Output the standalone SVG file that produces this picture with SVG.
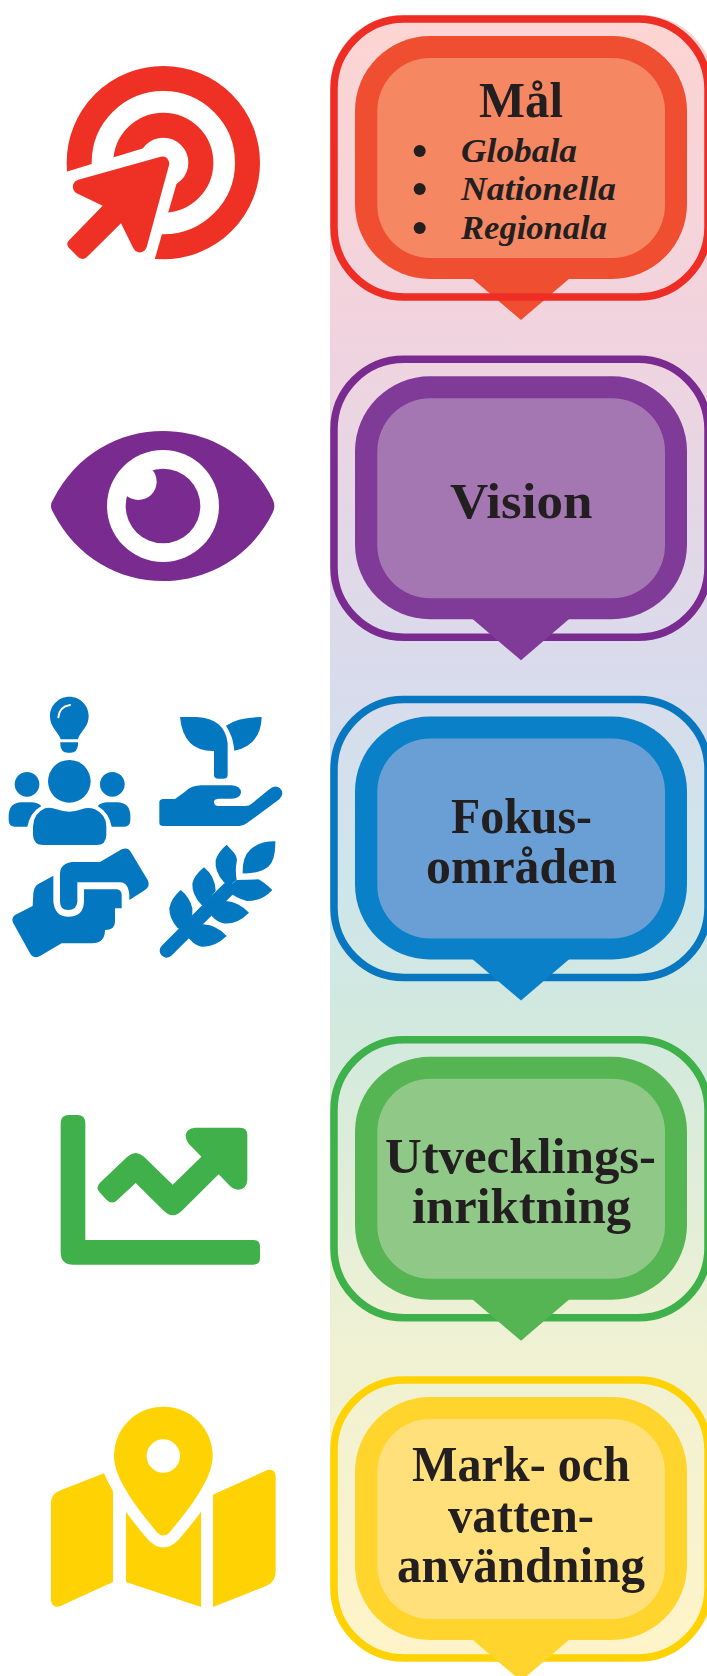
<svg xmlns="http://www.w3.org/2000/svg" width="707" height="1676" viewBox="0 0 707 1676">
<style>
text{font-family:"Liberation Serif",serif;font-weight:700;fill:#231f20;font-size:50px;text-anchor:start}
.it{font-style:italic;font-size:33px}
.bar{fill:none;stroke-width:7.5}
</style>
<defs>
<linearGradient id="band" x1="0" y1="15" x2="0" y2="1657" gradientUnits="userSpaceOnUse">
<stop offset="0" stop-color="#fdd5d2"/>
<stop offset=".19" stop-color="#f1d3de"/>
<stop offset=".4" stop-color="#d9dbec"/>
<stop offset=".52" stop-color="#cee5ec"/>
<stop offset=".62" stop-color="#d2e9de"/>
<stop offset=".8" stop-color="#eef1d4"/>
<stop offset="1" stop-color="#fff4c8"/>
</linearGradient>
<g id="bubble">
<rect x="355" y="36" width="332" height="243" rx="75"/>
<path d="M471.700 278L521 320L570 278Z"/>
</g>
</defs>
<rect id="band-bg" x="330" y="15" width="385" height="1642" rx="73" fill="url(#band)"/>

<g id="node-mal">
<use href="#bubble" fill="#f04e30"/>
<rect x="377.300" y="58" width="287.700" height="200" rx="53" fill="#f68763"/>
<rect class="bar" x="334" y="19" width="374" height="278" rx="70" stroke="#ee2e24"/>
<text x="479" y="117" textLength="84" lengthAdjust="spacingAndGlyphs">Mål</text>
<circle cx="419.700" cy="151" r="6" fill="#231f20"/>
<circle cx="419.700" cy="189" r="6" fill="#231f20"/>
<circle cx="419.700" cy="228" r="6" fill="#231f20"/>
<text class="it" x="461" y="162.300" textLength="116" lengthAdjust="spacingAndGlyphs">Globala</text>
<text class="it" x="461" y="200" textLength="155" lengthAdjust="spacingAndGlyphs">Nationella</text>
<text class="it" x="461" y="239" textLength="146" lengthAdjust="spacingAndGlyphs">Regionala</text>
</g>
<g id="icon-mal" transform="translate(40,40) scale(.33333)">
<circle cx="370" cy="368" r="252.500" fill="none" stroke="#ee3124" stroke-width="75"/>
<circle cx="370" cy="368" r="112.500" fill="none" stroke="#ee3124" stroke-width="75"/>
<path d="M40 407L310 325L370 368L410 430L345 655L330 700L40 700Z" fill="#fff"/>
<path d="M362 350Q385 345 388 372L320 622Q312 640 295 637Q285 635 280 625L243 550L140 652Q128 662 115 652L85 622Q77 610 88 600L188 497L110 460Q95 450 100 432Q104 422 115 419Z" fill="#ee3124"/>
</g>

<g id="node-vision">
<rect class="bar" x="334" y="359.250" width="374" height="278" rx="70" stroke="#7a2b8f"/>
<use href="#bubble" y="340.250" fill="#803a98"/>
<rect x="377.300" y="398.250" width="287.700" height="200" rx="53" fill="#a477b3"/>
<text x="450" y="517.700" textLength="142.500" lengthAdjust="spacingAndGlyphs">Vision</text>
</g>
<g id="icon-vision" transform="translate(40,410) scale(.33333)">
<path d="M33 288Q33 278 40 268C110 130 240 63 369 63C500 63 630 130 698 268Q708 288 698 308C630 445 500 513 369 513C240 513 110 445 40 308Q33 298 33 288Z" fill="#7a2b8f"/>
<circle cx="369" cy="288" r="168" fill="#fff"/>
<circle cx="369" cy="288" r="112" fill="#7a2b8f"/>
<circle cx="295" cy="215" r="55" fill="#fff"/>
</g>

<g id="node-fokus">
<rect class="bar" x="334" y="699.500" width="374" height="278" rx="70" stroke="#0877bf"/>
<use href="#bubble" y="680.500" fill="#0a80c8"/>
<rect x="377.300" y="738.500" width="287.700" height="200" rx="53" fill="#6a9fd6"/>
<text x="451" y="833" textLength="141" lengthAdjust="spacingAndGlyphs">Fokus-</text>
<text x="426" y="882.500" textLength="191" lengthAdjust="spacingAndGlyphs">områden</text>
</g>
<g id="icon-fokus" transform="translate(0,680) scale(.33333)" fill="#0477c1">
<path d="M208 50C240 50 266 76 266 108C266 130 255 143 245 157Q235 170 234 178H182Q180 170 170 157C160 143 150 130 150 108C150 76 176 50 208 50Z"/>
<path d="M181 187H234V195Q232 218 212 218H203Q183 218 181 195Z"/>
<path d="M175 112Q178 80 210 75" fill="none" stroke="#fff" stroke-width="6" stroke-linecap="round"/>
<circle cx="208" cy="304" r="64"/>
<circle cx="81" cy="313" r="37"/>
<circle cx="337" cy="313" r="37"/>
<path d="M99 460V440Q100 400 135 385Q150 380 170 388Q208 402 245 388Q265 380 285 388Q320 405 319 440V465Q318 495 290 495H130Q100 495 99 465Z"/>
<path d="M82 440H45Q26 440 26 420V405Q28 368 65 367H95Q112 367 124 378Q90 398 82 440Z"/>
<path d="M335 440H372Q391 440 391 420V405Q389 368 352 367H322Q305 367 293 378Q327 398 335 440Z"/>
<path d="M540 111H590Q675 115 683 190V285Q683 296 670 296H655Q642 296 642 285V213Q550 215 540 111Z"/>
<path d="M785 111Q783 195 703 212Q700 170 678 137Q715 111 785 111Z"/>
<path d="M478 365Q480 357 490 357H525L555 335Q575 316 605 316H695Q723 318 723 338Q720 355 695 356H655Q640 358 642 368Q645 378 655 378H735Q748 378 755 371L808 328Q825 312 840 325Q855 340 838 358L740 430Q730 438 718 438H490Q478 438 478 428Z"/>
<path d="M180 580Q182 548 220 546H300L365 508Q382 500 392 515L443 600Q452 618 435 630L388 660V645Q385 607 360 607H232V665Q230 690 205 690Q180 690 180 665Z"/>
<path d="M100 640Q102 620 115 612L160 587V665Q165 710 205 710Q250 710 252 665V628H350Q365 630 365 645V685H345V725Q345 750 315 750Q315 790 275 790H185L120 828Q100 838 90 820L40 730Q32 715 45 705L98 678Z"/>
</g>
<g id="icon-wheat" transform="translate(155,840) scale(.33333)" fill="#0477c1">
<path d="M35 332L220 147" fill="none" stroke="#0477c1" stroke-width="42" stroke-linecap="round"/>
<path d="M77 150Q105 172 112 205L112 225L85 270L68 265Q42 235 43 205Q48 175 77 150Z"/>
<path d="M147 82Q180 108 182 152L150 195L140 195Q110 165 112 130Q118 105 147 82Z"/>
<path d="M215 14L237 38Q248 52 245 65Q240 90 245 120L220 140L207 127Q178 95 182 60Q190 35 215 14Z"/>
<path d="M361 4Q362 60 340 80Q310 102 263 100Q262 50 285 30Q310 4 361 4Z"/>
<path d="M245 120L310 118Q325 125 352 150Q320 185 275 183Q245 175 212 150L200 160Z"/>
<path d="M213 183Q250 185 282 218Q245 255 205 250Q185 245 170 228L170 190Z"/>
<path d="M145 253Q185 255 215 288Q180 322 140 320Q120 318 102 295L100 270Z"/>
</g>

<g id="node-utveckling">
<rect class="bar" x="334" y="1039.750" width="374" height="278" rx="70" stroke="#3fb14a"/>
<use href="#bubble" y="1020.750" fill="#55b552"/>
<rect x="377.300" y="1078.750" width="287.700" height="200" rx="53" fill="#90c888"/>
<text x="385" y="1173" textLength="271" lengthAdjust="spacingAndGlyphs">Utvecklings-</text>
<text x="412" y="1222.500" textLength="219" lengthAdjust="spacingAndGlyphs">inriktning</text>
</g>
<g id="icon-utveckling" transform="translate(40,1100) scale(.33333)" fill="#3fb04a">
<path d="M62 70Q62 45 87 45H112Q136 45 136 70V420H640Q660 420 660 440V474Q660 494 640 494H100Q62 494 62 456Z"/>
<path d="M437 105Q440 85 465 83H600Q622 83 622 105V240Q620 268 595 269Q580 268 570 258L536 223L425 333Q398 358 372 333L287 249L232 300Q217 315 200 300L180 278Q165 263 180 248L262 170Q287 148 312 170L398 254L484 170L447 132Q437 120 437 105Z"/>
</g>

<g id="node-mark">
<rect class="bar" x="334" y="1380" width="374" height="278" rx="70" stroke="#ffd204"/>
<use href="#bubble" y="1361" fill="#ffd52d"/>
<rect x="377.300" y="1419" width="287.700" height="200" rx="53" fill="#ffe07a"/>
<text x="412" y="1480.700" textLength="218" lengthAdjust="spacingAndGlyphs">Mark- och</text>
<text x="448" y="1531.700" textLength="146" lengthAdjust="spacingAndGlyphs">vatten-</text>
<text x="397" y="1581.700" textLength="248" lengthAdjust="spacingAndGlyphs">användning</text>
</g>
<g id="icon-mark" transform="translate(30,1390) scale(.33333)" fill="#ffd204">
<path d="M222 250Q232 275 249 303V576L90 649Q65 655 63 630V335Q65 312 88 302Z"/>
<path d="M288 365Q320 410 355 450Q400 495 445 450Q480 410 513 365V651L288 576Z"/>
<path d="M549 314L712 240Q735 235 737 258V545Q737 575 710 587L549 651Z"/>
<path d="M400 50C485 50 548 118 548 198C548 270 470 365 418 428Q400 445 382 428C330 365 252 270 252 198C252 118 315 50 400 50Z"/>
<circle cx="400" cy="198" r="50" fill="#fff"/>
</g>
</svg>
